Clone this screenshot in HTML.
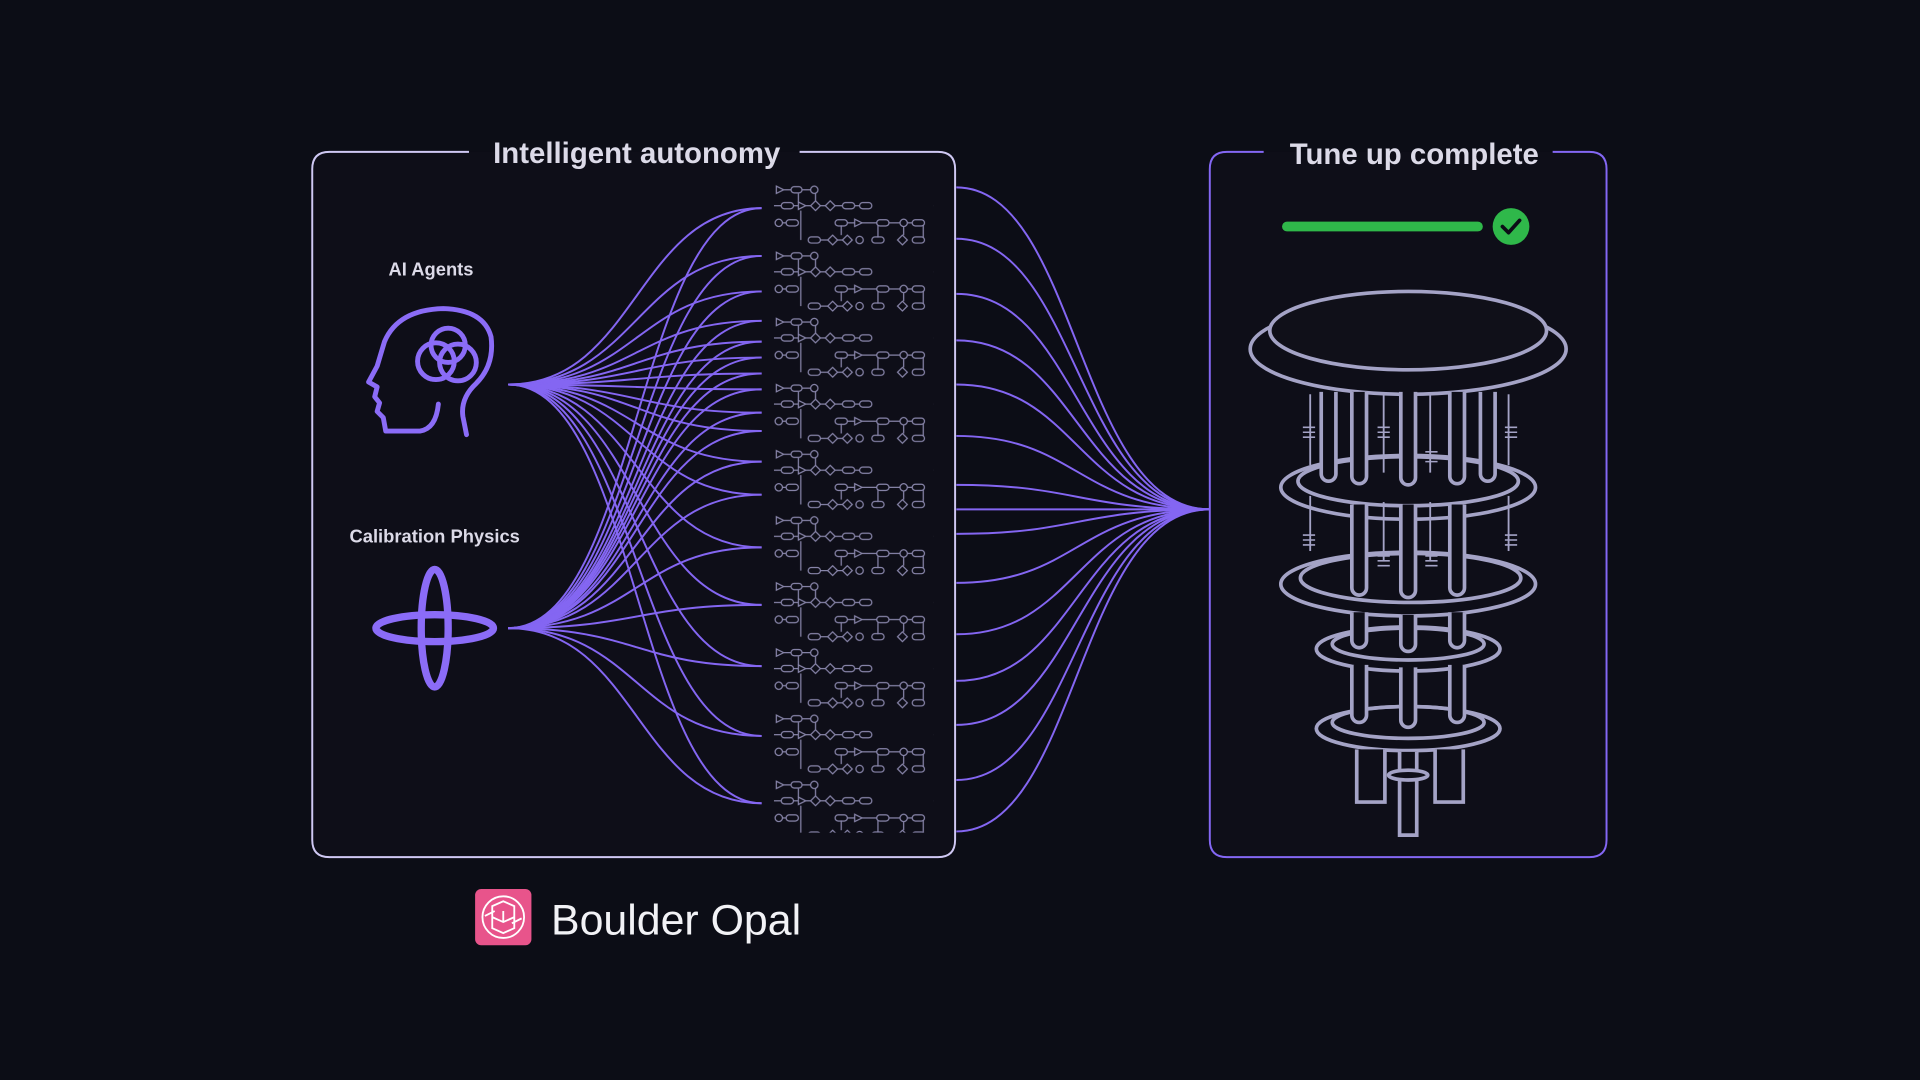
<!DOCTYPE html>
<html><head><meta charset="utf-8"><style>
html,body{margin:0;padding:0;background:#0c0d16;width:1920px;height:1080px;overflow:hidden}
svg{display:block}
text{font-family:"Liberation Sans",sans-serif}
</style></head><body>
<svg width="1920" height="1080" viewBox="0 0 1568 882" xmlns="http://www.w3.org/2000/svg">
<defs>
<pattern id="circ" x="632" y="148" width="130" height="54" patternUnits="userSpaceOnUse">
<g fill="none" stroke="#8986ab" stroke-width="1">
<path d="M2 4 L8 7 L2 10 Z"/><line x1="8" y1="7" x2="14" y2="7"/><rect x="14" y="4.5" width="9" height="5" rx="2.5"/><line x1="23" y1="7" x2="30" y2="7"/><circle cx="33" cy="7" r="3"/>
<line x1="0" y1="20" x2="6" y2="20"/><rect x="6" y="17.5" width="10" height="5" rx="2.5"/><line x1="16" y1="20" x2="20" y2="20"/><path d="M20 17 L26 20 L20 23 Z"/><line x1="26" y1="20" x2="30" y2="20"/><path d="M30 20 L34 16 L38 20 L34 24 Z"/><line x1="38" y1="20" x2="42" y2="20"/><path d="M42 20 L46 16 L50 20 L46 24 Z"/><line x1="50" y1="20" x2="56" y2="20"/><rect x="56" y="17.5" width="10" height="5" rx="2.5"/><line x1="66" y1="20" x2="70" y2="20"/><rect x="70" y="17.5" width="10" height="5" rx="2.5"/>
<line x1="34" y1="10" x2="34" y2="16"/><line x1="20" y1="10" x2="20" y2="17"/>
<circle cx="4" cy="34" r="3"/><line x1="7" y1="34" x2="10" y2="34"/><rect x="10" y="31.5" width="10" height="5" rx="2.5"/><line x1="22" y1="24" x2="22" y2="48"/>
<rect x="50" y="31.5" width="10" height="5" rx="2.5"/><line x1="60" y1="34" x2="66" y2="34"/><path d="M66 31 L72 34 L66 37 Z"/><line x1="72" y1="34" x2="84" y2="34"/><rect x="84" y="31.5" width="10" height="5" rx="2.5"/><line x1="94" y1="34" x2="103" y2="34"/><circle cx="106" cy="34" r="3"/><line x1="109" y1="34" x2="113" y2="34"/><rect x="113" y="31.5" width="10" height="5" rx="2.5"/>
<line x1="55" y1="36" x2="55" y2="44"/><rect x="28" y="45.5" width="10" height="5" rx="2.5"/><line x1="38" y1="48" x2="44" y2="48"/><path d="M44 48 L48 44 L52 48 L48 52 Z"/><line x1="52" y1="48" x2="56" y2="48"/><path d="M56 48 L60 44 L64 48 L60 52 Z"/><circle cx="70" cy="48" r="3"/><rect x="80" y="45.5" width="10" height="5" rx="2.5"/><line x1="85" y1="36" x2="85" y2="46"/><path d="M101 48 L105 44 L109 48 L105 52 Z"/><rect x="113" y="45.5" width="10" height="5" rx="2.5"/><line x1="106" y1="37" x2="106" y2="44"/><line x1="122" y1="36" x2="122" y2="46"/>
</g>
</pattern>
</defs>
<path d="M383 124 H269 Q255 124 255 138 V686 Q255 700 269 700 H766 Q780 700 780 686 V138 Q780 124 766 124 H653" fill="#0e0e18" stroke="#cfc8f3" stroke-width="1.6"/>
<text x="520" y="133" font-size="24" font-weight="bold" fill="#dcdae8" text-anchor="middle">Intelligent autonomy</text>
<path d="M1032 124 H1002 Q988 124 988 138 V686 Q988 700 1002 700 H1298 Q1312 700 1312 686 V138 Q1312 124 1298 124 H1268" fill="#0e0e18" stroke="#8467f4" stroke-width="1.6"/>
<text x="1155" y="134" font-size="24" font-weight="bold" fill="#dcdae8" text-anchor="middle">Tune up complete</text>

<text x="352" y="225" font-size="15" font-weight="bold" fill="#dcdae8" text-anchor="middle">AI Agents</text>
<text x="355" y="443" font-size="15" font-weight="bold" fill="#dcdae8" text-anchor="middle">Calibration Physics</text>

<g fill="none" stroke="#8b6cf7" stroke-width="4" stroke-linecap="round" stroke-linejoin="round">
<path d="M381 355 L378 340 Q376 325 389 313 Q404 298 401 275 Q395 253 362 252 Q325 253 314 279 L308 299 L301 312 L308 316 L306 324 L310 329 L308 336 L313 341 L315 352 L343 352 Q356 350 358 330"/>
<circle cx="366" cy="282" r="14"/><circle cx="356" cy="295" r="15"/><circle cx="374" cy="296" r="15"/>
</g>
<g fill="none" stroke="#8b6cf7" stroke-width="6">
<ellipse cx="355" cy="513" rx="48" ry="11"/><ellipse cx="355" cy="513" rx="11" ry="48"/>
</g>

<g fill="none" stroke="#8466f2" stroke-width="1.6">
<path d="M415 314 C520 314 520 170 622 170"/><path d="M415 314 C520 314 520 209 622 209"/><path d="M415 314 C520 314 520 238 622 238"/><path d="M415 314 C520 314 520 262 622 262"/><path d="M415 314 C520 314 520 279 622 279"/><path d="M415 314 C520 314 520 292 622 292"/><path d="M415 314 C520 314 520 305 622 305"/><path d="M415 314 C520 314 520 318 622 318"/><path d="M415 314 C520 314 520 337 622 337"/><path d="M415 314 C520 314 520 352 622 352"/><path d="M415 314 C520 314 520 377 622 377"/><path d="M415 314 C520 314 520 404 622 404"/><path d="M415 314 C520 314 520 447 622 447"/><path d="M415 314 C520 314 520 494 622 494"/><path d="M415 314 C520 314 520 544 622 544"/><path d="M415 314 C520 314 520 601 622 601"/><path d="M415 314 C520 314 520 656 622 656"/>
<path d="M415 513 C520 513 520 170 622 170"/><path d="M415 513 C520 513 520 209 622 209"/><path d="M415 513 C520 513 520 238 622 238"/><path d="M415 513 C520 513 520 262 622 262"/><path d="M415 513 C520 513 520 279 622 279"/><path d="M415 513 C520 513 520 292 622 292"/><path d="M415 513 C520 513 520 305 622 305"/><path d="M415 513 C520 513 520 318 622 318"/><path d="M415 513 C520 513 520 337 622 337"/><path d="M415 513 C520 513 520 352 622 352"/><path d="M415 513 C520 513 520 377 622 377"/><path d="M415 513 C520 513 520 404 622 404"/><path d="M415 513 C520 513 520 447 622 447"/><path d="M415 513 C520 513 520 494 622 494"/><path d="M415 513 C520 513 520 544 622 544"/><path d="M415 513 C520 513 520 601 622 601"/><path d="M415 513 C520 513 520 656 622 656"/>
</g>
<g fill="none" stroke="#8466f2" stroke-width="1.6">
<path d="M781 153 C880 153 880 416 988 416"/><path d="M781 195 C880 195 880 416 988 416"/><path d="M781 240 C880 240 880 416 988 416"/><path d="M781 278 C880 278 880 416 988 416"/><path d="M781 314 C880 314 880 416 988 416"/><path d="M781 356 C880 356 880 416 988 416"/><path d="M781 396 C880 396 880 416 988 416"/><path d="M781 416 L988 416"/><path d="M781 436 C880 436 880 416 988 416"/><path d="M781 476 C880 476 880 416 988 416"/><path d="M781 518 C880 518 880 416 988 416"/><path d="M781 556 C880 556 880 416 988 416"/><path d="M781 592 C880 592 880 416 988 416"/><path d="M781 637 C880 637 880 416 988 416"/><path d="M781 679 C880 679 880 416 988 416"/>
</g>
<rect x="632" y="148" width="130" height="532" fill="url(#circ)"/>

<line x1="1051" y1="185" x2="1207" y2="185" stroke="#2fb84a" stroke-width="8" stroke-linecap="round"/>
<circle cx="1234" cy="185" r="15" fill="#2fb84a"/>
<path d="M1227 185 L1232 190 L1241 180" fill="none" stroke="#0c0d16" stroke-width="3" stroke-linecap="round" stroke-linejoin="round"/>

<g fill="none" stroke="#a4a3c6" stroke-width="3">
<ellipse cx="1150" cy="285" rx="129" ry="37" fill="#0e0e18"/>
<ellipse cx="1150" cy="270" rx="113" ry="32" fill="#101019"/>
<ellipse cx="1150" cy="398" rx="104" ry="26"/><ellipse cx="1150" cy="393" rx="90" ry="20"/>
<ellipse cx="1150" cy="477" rx="104" ry="26"/><ellipse cx="1152" cy="472" rx="90" ry="20"/>
<ellipse cx="1150" cy="530" rx="75" ry="18"/><ellipse cx="1150" cy="526" rx="62" ry="13"/>
<ellipse cx="1150" cy="595" rx="75" ry="18"/><ellipse cx="1150" cy="590" rx="62" ry="13"/>
<g stroke-width="1.5"><line x1="1070" y1="322" x2="1070" y2="380"/><line x1="1130" y1="322" x2="1130" y2="386"/><line x1="1168" y1="322" x2="1168" y2="386"/><line x1="1232" y1="322" x2="1232" y2="380"/>
<line x1="1070" y1="405" x2="1070" y2="450"/><line x1="1130" y1="410" x2="1130" y2="458"/><line x1="1168" y1="410" x2="1168" y2="458"/><line x1="1232" y1="405" x2="1232" y2="450"/></g>
<g stroke-width="1.3"><path d="M1064 349h10M1064 353h10M1064 357h10M1125 349h10M1125 353h10M1125 357h10M1164 369h10M1164 373h10M1164 377h10M1229 349h10M1229 353h10M1229 357h10M1064 437h10M1064 441h10M1064 445h10M1125 454h10M1125 458h10M1125 462h10M1164 454h10M1164 458h10M1164 462h10M1229 437h10M1229 441h10M1229 445h10"/></g>
<g fill="#0e0e18">
<path d="M1079 320 V387 A6 6 0 0 0 1091 387 V320"/><path d="M1104 320 V389 A6 6 0 0 0 1116 389 V320"/><path d="M1144 320 V390 A6 6 0 0 0 1156 390 V320"/><path d="M1184 320 V389 A6 6 0 0 0 1196 389 V320"/><path d="M1209 320 V387 A6 6 0 0 0 1221 387 V320"/>
<path d="M1104 412 V480 A6 6 0 0 0 1116 480 V412"/><path d="M1144 412 V482 A6 6 0 0 0 1156 482 V412"/><path d="M1184 412 V480 A6 6 0 0 0 1196 480 V412"/>
<path d="M1104 500 V523 A6 6 0 0 0 1116 523 V500"/><path d="M1144 502 V526 A6 6 0 0 0 1156 526 V502"/><path d="M1184 500 V523 A6 6 0 0 0 1196 523 V500"/>
<path d="M1104 543 V584 A6 6 0 0 0 1116 584 V543"/><path d="M1144 545 V588 A6 6 0 0 0 1156 588 V545"/><path d="M1184 543 V584 A6 6 0 0 0 1196 584 V543"/>
<path d="M1108 612 V655 H1131 V612"/><path d="M1172 612 V655 H1195 V612"/>
<path d="M1143 614 V682 H1157 V614"/>
<ellipse cx="1150" cy="633" rx="16" ry="4"/></g>
</g>

<rect x="388" y="726" width="46" height="46" rx="5" fill="#e8548b"/>
<g fill="none" stroke="#fff" stroke-width="1.5"><circle cx="411" cy="749" r="17"/><path d="M402 740 L411 736 L420 740 L420 749 L411 753 L402 749 Z M402 749 L402 758 L411 762 L420 758 L420 749 M411 744 L411 753 M396 748 L404 744 M418 754 L426 750"/></g>
<text x="450" y="763" font-size="35" fill="#f2f2f6">Boulder Opal</text>
</svg>
</body></html>
